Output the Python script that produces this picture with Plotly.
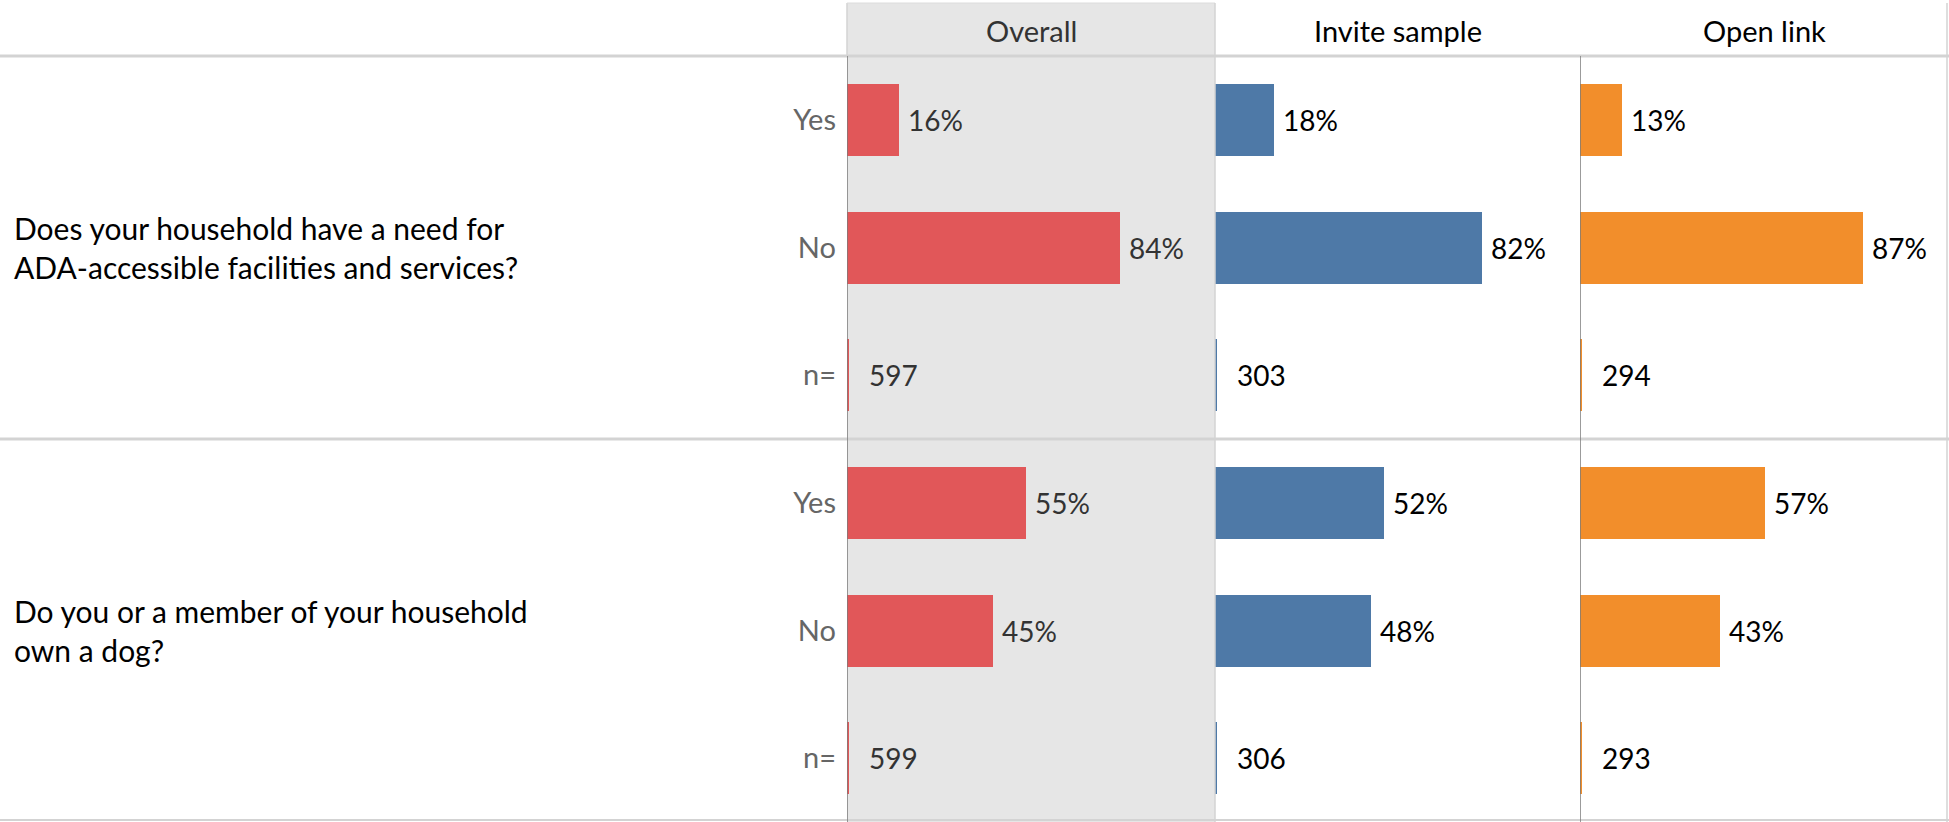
import plotly.graph_objects as go

# ---------------- data ----------------
groups = ["Overall", "Invite sample", "Open link"]
questions = [
    "Does your household have a need for<br>ADA-accessible facilities and services?",
    "Do you or a member of your household<br>own a dog?",
]
row_labels = ["Yes", "No", "n="]

ada_yes = [16, 18, 13]
ada_no = [84, 82, 87]
ada_n = [597, 303, 294]

dog_yes = [55, 52, 57]
dog_no = [45, 48, 43]
dog_n = [599, 306, 293]

colors = ["#E15759", "#4E79A7", "#F28E2B"]
label_colors = ["#333333", "#000000", "#000000"]

# ---------------- layout constants ----------------
W, H = 1949, 822
L, T = 847, 56
PW = W - L
PH = H - T
edges_px = [847, 1215, 1580, 1949]
doms = [((edges_px[i] - L) / PW, (edges_px[i + 1] - L) / PW) for i in range(3)]
PX_PER_PCT = 3.25
N_STUB = 0.5
FONT = "Lato"
FS = 30
NUM_FS = 28

fig = go.Figure()

ypos = list(range(6))
for g in range(3):
    vals = [ada_yes[g], ada_no[g], N_STUB, dog_yes[g], dog_no[g], N_STUB]
    xa = "x" if g == 0 else f"x{g+1}"
    fig.add_trace(go.Bar(
        x=vals, y=ypos, orientation="h", width=0.564,
        marker=dict(color=colors[g], line=dict(width=0)),
        xaxis=xa, yaxis="y", showlegend=False, hoverinfo="skip",
    ))
    texts = [f"{ada_yes[g]}%", f"{ada_no[g]}%", f"{ada_n[g]}",
             f"{dog_yes[g]}%", f"{dog_no[g]}%", f"{dog_n[g]}"]
    xs = [ada_yes[g], ada_no[g], 0, dog_yes[g], dog_no[g], 0]
    for i in range(6):
        is_n = (i % 3 == 2)
        fig.add_annotation(
            x=xs[i], y=ypos[i], xref=xa, yref="y", text=texts[i],
            showarrow=False, xanchor="left", yanchor="middle",
            xshift=20 if is_n else 7,
            font=dict(family=FONT, size=NUM_FS, color=label_colors[g]),
        )
    fig.add_annotation(
        x=(doms[g][0] + doms[g][1]) / 2, y=1, xref="paper", yref="paper",
        text=groups[g], showarrow=False, xanchor="center", yanchor="middle",
        yshift=26, font=dict(family=FONT, size=FS - 1, color=label_colors[g]),
    )

for qi, q in enumerate(questions):
    fig.add_annotation(
        x=-(L - 12) / PW, y=1 + 3 * qi, xref="paper", yref="y", text=q,
        showarrow=False, xanchor="left", yanchor="middle", align="left",
        font=dict(family=FONT, size=FS, color="#000000"),
    )

top_paper = 1 + (T - 3) / PH
grid_c = "#d3d3d3"
shapes = [
    # gray Overall panel
    dict(type="rect", xref="paper", yref="paper", x0=doms[0][0], x1=doms[0][1],
         y0=0, y1=top_paper, fillcolor="#e6e6e6", line=dict(width=0), layer="below"),
    # gray panel borders
    dict(type="line", xref="paper", yref="paper", x0=doms[0][0], x1=doms[0][0],
         y0=1, y1=top_paper, line=dict(color=grid_c, width=1.5)),
    dict(type="line", xref="paper", yref="paper", x0=doms[0][0], x1=doms[0][1],
         y0=top_paper, y1=top_paper, line=dict(color="#dcdcdc", width=1)),
    dict(type="line", xref="paper", yref="paper", x0=doms[0][1], x1=doms[0][1],
         y0=0, y1=top_paper, line=dict(color=grid_c, width=1.5)),
    # right border
    dict(type="line", xref="paper", yref="paper", x0=(W - 2 - L) / PW, x1=(W - 2 - L) / PW,
         y0=0, y1=top_paper, line=dict(color=grid_c, width=1.5)),
    # header line
    dict(type="line", xref="paper", yref="paper", x0=-L / PW, x1=1,
         y0=1, y1=1, line=dict(color=grid_c, width=3)),
    # section separator
    dict(type="line", xref="paper", yref="y", x0=-L / PW, x1=1,
         y0=2.5, y1=2.5, line=dict(color=grid_c, width=3)),
    # bottom line
    dict(type="line", xref="paper", yref="paper", x0=-L / PW, x1=1,
         y0=2 / PH, y1=2 / PH, line=dict(color=grid_c, width=2)),
    # zero lines
    dict(type="line", xref="x", yref="paper", x0=0, x1=0, y0=0, y1=1,
         line=dict(color="#7a7a7a", width=1.5), layer="above"),
    dict(type="line", xref="x3", yref="paper", x0=0, x1=0, y0=0, y1=1,
         line=dict(color="#7a7a7a", width=1.5), layer="above"),
]

layout = dict(
    width=W, height=H,
    margin=dict(l=L, r=0, t=T, b=0, pad=0),
    paper_bgcolor="white", plot_bgcolor="rgba(0,0,0,0)",
    bargap=0, showlegend=False, shapes=shapes,
    font=dict(family=FONT, size=FS),
    yaxis=dict(
        range=[5.5, -0.5], tickvals=ypos, ticktext=row_labels * 2,
        showgrid=False, zeroline=False, showline=False, ticks="",
        ticklabelstandoff=10,
        tickfont=dict(family=FONT, size=FS - 1, color="#666666"),
        anchor="x", fixedrange=True,
    ),
)
for g in range(3):
    key = "xaxis" if g == 0 else f"xaxis{g+1}"
    span = edges_px[g + 1] - edges_px[g]
    layout[key] = dict(
        domain=list(doms[g]), range=[0, span / PX_PER_PCT],
        showgrid=False, zeroline=False, showline=False, showticklabels=False,
        ticks="", anchor="y", fixedrange=True,
    )

fig.update_layout(**layout)
fig.write_html(
    "out.html",
    config={"displayModeBar": False},
    post_script="document.body.style.margin='0px';document.body.style.overflow='hidden';",
)
